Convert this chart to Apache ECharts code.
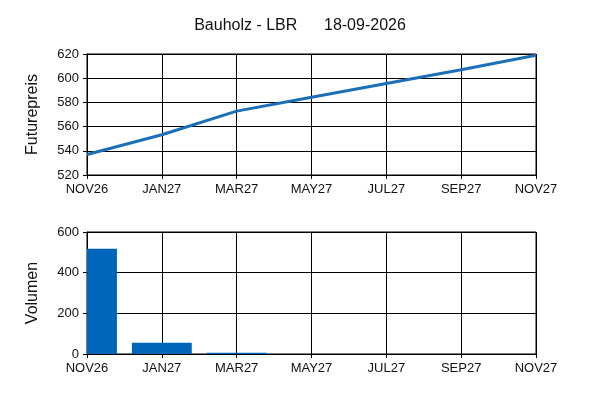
<!DOCTYPE html>
<html><head><meta charset="utf-8">
<script src="https://cdn.jsdelivr.net/npm/echarts@6/dist/echarts.min.js"></script>
<style>html,body{margin:0;padding:0;background:#fff}#c{width:600px;height:400px}</style>
</head><body><div id="c"></div>
<script>
const categories = ['NOV26','JAN27','MAR27','MAY27','JUL27','SEP27','NOV27'];
const futurePrices = [537, 553.3, 572.8, 584.2, 595.6, 607, 619];
const volumes = [518, 55, 6, 0, 0, 0, 0];
const titleText = 'Bauholz - LBR      18-09-2026';

const font = 'Liberation Sans, Arial, sans-serif';
const chart = echarts.init(document.getElementById('c'), null, {renderer:'canvas'});
const xAxisBase = (idx) => ({
  type:'category', gridIndex:idx, data:categories, boundaryGap:false,
  axisLine:{lineStyle:{color:'#000',width:1}},
  axisTick:{show:true,length:4,lineStyle:{color:'#000'}},
  axisLabel:{color:'#111',fontFamily:font,fontSize:13,margin:8},
  splitLine:{show:true,lineStyle:{color:'#000',width:1}}
});
const yAxisBase = (idx, min, max, interval, name) => ({
  type:'value', gridIndex:idx, min, max, interval, name,
  nameLocation:'middle', nameGap:46, nameRotate:90,
  nameTextStyle:{color:'#111',fontFamily:font,fontSize:16},
  axisLine:{show:true,lineStyle:{color:'#000',width:1}},
  axisTick:{show:true,length:4,lineStyle:{color:'#000'}},
  axisLabel:{color:'#111',fontFamily:font,fontSize:13,margin:8},
  splitLine:{show:true,lineStyle:{color:'#000',width:1}}
});
chart.setOption({
  animation:false,
  backgroundColor:'#fff',
  title:{text:titleText,left:'center',top:13,textStyle:{fontFamily:font,fontSize:16,fontWeight:'normal',color:'#111'}},
  grid:[
    {left:87,right:64,top:54,height:121,show:true,borderColor:'#000',borderWidth:1},
    {left:87,right:64,top:232,height:122,show:true,borderColor:'#000',borderWidth:1}
  ],
  xAxis:[xAxisBase(0), xAxisBase(1)],
  yAxis:[yAxisBase(0,520,620,20,'Futurepreis'), yAxisBase(1,0,600,200,'Volumen')],
  series:[
    {type:'line',xAxisIndex:0,yAxisIndex:0,data:futurePrices,showSymbol:false,
     lineStyle:{color:'#1a6fb8',width:3},itemStyle:{color:'#1a6fb8'}},
    {type:'custom',xAxisIndex:1,yAxisIndex:1,
     data:volumes.map((v,i)=>[i,v]),
     encode:{x:0,y:1},
     renderItem:function(params, api){
       const top = api.coord([api.value(0), api.value(1)]);
       const base = api.coord([api.value(0), 0]);
       const w = api.size([1,0])[0]*0.8;
       const cs = params.coordSys;
       const rect = echarts.graphic.clipRectByRect(
         {x:top[0]-w/2, y:top[1], width:w, height:base[1]-top[1]},
         {x:cs.x, y:cs.y, width:cs.width, height:cs.height});
       if (!rect || rect.height <= 0) return null;
       return {type:'rect', shape:rect, style:{fill:'#0066b9'}};
     }}
  ]
});
</script></body></html>
